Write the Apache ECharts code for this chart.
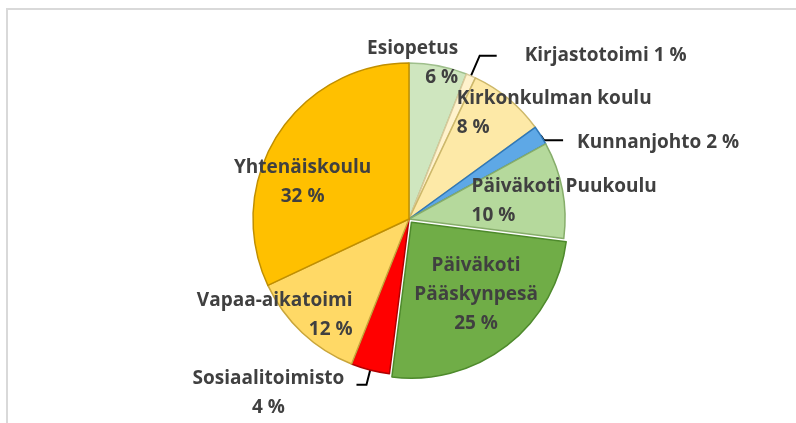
<!DOCTYPE html>
<html>
<head>
<meta charset="utf-8">
<script src="https://cdn.jsdelivr.net/npm/echarts@6/dist/echarts.min.js"></script>
<style>
  html, body { margin: 0; padding: 0; background: #fff; }
  #chart { width: 796px; height: 423px; }
</style>
</head>
<body>
<div id="chart"></div>
<script>
const categories = [
  'Esiopetus', 'Kirjastotoimi', 'Kirkonkulman koulu', 'Kunnanjohto',
  'Päiväkoti Puukoulu', 'Päiväkoti\nPääskynpesä', 'Sosiaalitoimisto',
  'Vapaa-aikatoimi', 'Yhtenäiskoulu'
]
const shares = [6, 1, 8, 2, 10, 25, 4, 12, 32]

const fills = ['#cfe6bf', '#fff2cc', '#fde9a7', '#5ea8e6', '#b5d99c', '#70ad47', '#ff0000', '#ffd966', '#ffc000']
const edges = ['#9fbf8c', '#d8c99a', '#cdb86a', '#2f78b8', '#86ad6a', '#4e8a2c', '#b00000', '#c9a53a', '#c08f00']
// label offsets from the default inside / outside spot
const labelShift = [
  { dx: 34, dy: -76, align: 'right' },
  { dx: 0, dy: 0 },
  { dx: -4, dy: -43, align: 'left' },
  { dx: 0, dy: 9, lineDy: 7 },
  { dx: -17, dy: -3, align: 'left' },
  { dx: 15, dy: 8, align: 'center' },
  { dx: -86, dy: 8, align: 'center' },
  { dx: -1, dy: 37, align: 'right' },
  { dx: -38, dy: 6, align: 'center' }
]
const outside = [false, true, false, true, false, false, true, false, false]

const chart = echarts.init(document.getElementById('chart'))

const data = categories.map((name, i) => {
  const item = {
    name,
    value: shares[i],
    itemStyle: { color: fills[i], borderColor: edges[i], borderWidth: 1.5 }
  }
  if (outside[i]) {
    item.label = { position: 'outside' }
    item.labelLine = { show: true }
  }
  if (i === 5) item.selected = true
  return item
})
// per-item line tuning
data[1].labelLine.length = 22
data[1].labelLine.length2 = 17
data[1].label.distanceToLabelLine = 28
data[1].label.formatter = '{b} {c} %'
data[3].labelLine.length = 4
data[3].labelLine.length2 = 19
data[3].label.distanceToLabelLine = 14
data[3].label.formatter = '{b} {c} %'
data[6].labelLine.length = 15
data[6].labelLine.length2 = 10
data[6].label.distanceToLabelLine = 2

chart.setOption({
  backgroundColor: '#fff',
  animation: false,
  graphic: [{
    type: 'rect',
    shape: { x: 7, y: 9, width: 800, height: 430 },
    style: { fill: 'none', stroke: '#d9d9d9', lineWidth: 2 },
    silent: true
  }],
  series: [{
    type: 'pie',
    center: [409, 219],
    radius: 156,
    startAngle: 90,
    clockwise: true,
    selectedMode: 'single',
    selectedOffset: 4,
    avoidLabelOverlap: false,
    label: {
      position: 'inside',
      formatter: '{b}\n{c} %',
      color: '#404040',
      fontFamily: 'Open Sans',
      fontWeight: 'bold',
      fontSize: 19,
      lineHeight: 29
    },
    labelLine: {
      show: false,
      lineStyle: { color: '#000', width: 2 }
    },
    labelLayout: (p) => {
      const s = labelShift[p.dataIndex]
      const out = { dx: s.dx, dy: s.dy, align: s.align }
      if (s.lineDy && p.labelLinePoints) {
        out.labelLinePoints = p.labelLinePoints.map((pt, k) => (k === 0 ? pt : [pt[0], pt[1] + s.lineDy]))
      }
      return out
    },
    data
  }]
})
</script>
</body>
</html>
